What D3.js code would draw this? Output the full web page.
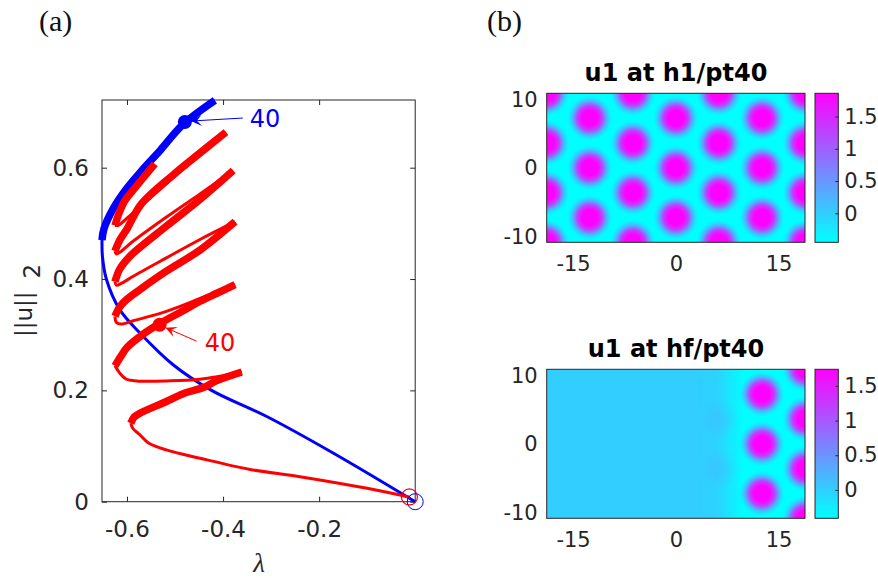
<!DOCTYPE html>
<html><head><meta charset="utf-8">
<script src="https://cdn.jsdelivr.net/npm/d3@7/dist/d3.min.js"></script>
<style>
body{margin:0;background:#fff;}
svg{display:block;}
text{font-family:"DejaVu Sans",sans-serif;}
</style></head><body>
<svg id="chart" width="878" height="578" xmlns="http://www.w3.org/2000/svg"></svg>
<script>
// ---------------- Panel (a): branches ----------------
const blueLambda = [0,-0.17,-0.309,-0.424,-0.504,-0.573,-0.615,-0.643,-0.651,-0.652,-0.648,-0.629,-0.601,-0.566,-0.531,-0.483,-0.417];
const blueNorm   = [0,0.087,0.153,0.2,0.246,0.303,0.345,0.40,0.44,0.47,0.49,0.526,0.562,0.598,0.631,0.678,0.721];
const blueStable = [0,0,0,0,0,0,0,0,0,1,1,1,1,1,1,1,1];

const redLambda = [-0.011,-0.1,-0.24,-0.344,-0.448,-0.518,-0.556,-0.573,-0.588,
  -0.592,-0.585,-0.573,-0.518,-0.483,-0.441,-0.414,
  -0.361,-0.448,-0.518,-0.58,-0.601,-0.615,
  -0.625,-0.612,-0.6,-0.566,-0.532,-0.483,-0.448,-0.414,
  -0.375,-0.448,-0.518,-0.587,-0.612,-0.622,
  -0.625,-0.615,-0.601,-0.573,-0.518,-0.448,
  -0.375,-0.448,-0.518,-0.587,-0.612,-0.622,
  -0.625,-0.615,-0.595,-0.518,-0.448,
  -0.379,-0.448,-0.52,-0.59,-0.615,-0.622,
  -0.625,-0.615,-0.6,-0.57,-0.5,-0.45,
  -0.394,-0.46,-0.53,-0.595,-0.617,
  -0.625,-0.618,-0.605,-0.587,-0.542];
const redNorm = [0.008,0.024,0.045,0.058,0.078,0.093,0.106,0.120,0.132,
  0.141,0.152,0.159,0.180,0.194,0.205,0.217,
  0.233,0.220,0.217,0.217,0.220,0.231,
  0.244,0.262,0.277,0.301,0.320,0.343,0.360,0.374,
  0.390,0.365,0.342,0.325,0.319,0.322,
  0.333,0.350,0.363,0.381,0.414,0.452,
  0.503,0.471,0.438,0.405,0.392,0.389,
  0.395,0.418,0.440,0.495,0.543,
  0.595,0.553,0.510,0.466,0.448,0.445,
  0.450,0.470,0.490,0.535,0.590,0.625,
  0.664,0.615,0.562,0.513,0.497,
  0.496,0.515,0.540,0.560,0.607];
const redStable = [0,0,0,0,0,0,0,0,0,
  1,1,1,1,1,1,1,
  0,0,0,0,0,0,
  1,1,1,1,1,1,1,1,
  0,0,0,0,0,0,
  1,1,1,1,1,1,
  0,0,0,0,0,0,
  1,1,1,1,1,
  0,0,0,0,0,0,
  1,1,1,1,1,1,
  0,0,0,0,0,
  1,1,1,1,1];

const bluePt40  = [-0.4796, 0.682];
const redPt40   = [-0.532, 0.318];
const blueStart = [0, 0];
const redStart  = [-0.012, 0.0085];
const ptLabel   = "40";
const aXTicks   = [-0.6, -0.4, -0.2];
const aYTicks   = [0, 0.2, 0.4, 0.6];
const aXDomain  = [-0.652, 0];
const aYDomain  = [0, 0.7216];

// ---------------- Panel (b): solution plots ----------------
const bXTicks  = [-15, 0, 15];
const bYTicks  = [-10, 0, 10];
const cbTicks  = [0, 0.5, 1, 1.5];
const bXDomain = [-18.85, 18.85];
const bYDomain = [-10.88, 10.88];
const topTitle = "u1 at h1/pt40";
const botTitle = "u1 at hf/pt40";
const topRange = [-0.45, 1.86];
const botRange = [-0.41, 1.74];
const topSpotX = [-12.57,-12.57,-12.57, 0,0,0, 12.57,12.57,12.57,
  -18.85,-18.85,-18.85,-18.85, -6.28,-6.28,-6.28,-6.28, 6.28,6.28,6.28,6.28, 18.85,18.85,18.85,18.85];
const topSpotY = [0,7.26,-7.26, 0,7.26,-7.26, 0,7.26,-7.26,
  3.63,-3.63,10.88,-10.88, 3.63,-3.63,10.88,-10.88, 3.63,-3.63,10.88,-10.88, 3.63,-3.63,10.88,-10.88];
const botSpotX = [12.57,12.57,12.57, 18.85,18.85,18.85,18.85];
const botSpotY = [0,7.26,-7.26, 3.63,-3.63,10.88,-10.88];
const botBumpX = [6.4, 6.4];
const botBumpY = [3.63, -3.63];
const botBaseX = [-18.85, 3, 6, 8, 10, 18.85];
const botBaseU = [0.0, 0.0, -0.03, -0.22, -0.41, -0.41];

// ---------------- drawing ----------------
const svg = d3.select("#chart");
const defs = svg.append("defs");
const ink = "#262626";

// ===== panel (a) =====
const xA = d3.scaleLinear().domain(aXDomain).range([102, 415.2]);
const yA = d3.scaleLinear().domain(aYDomain).range([501.7, 100]);

svg.append("text").attr("x", 39).attr("y", 31)
  .style("font-family", "'Liberation Serif','DejaVu Serif',serif").style("font-size", "30px").attr("fill", "#111").text("(a)");
svg.append("text").attr("x", 487).attr("y", 31)
  .style("font-family", "'Liberation Serif','DejaVu Serif',serif").style("font-size", "30px").attr("fill", "#111").text("(b)");

const gA = svg.append("g");
gA.append("rect").attr("x", xA.range()[0]).attr("y", yA.range()[1])
  .attr("width", xA.range()[1]-xA.range()[0]).attr("height", yA.range()[0]-yA.range()[1])
  .attr("fill", "none").attr("stroke", ink).attr("stroke-width", 1);

const fmt = d => String(d);
function styleAxis(g, size) {
  g.select(".domain").remove();
  g.selectAll(".tick line").attr("stroke", ink);
  g.selectAll(".tick text").attr("fill", ink).style("font-size", size + "px");
}
gA.append("g").attr("transform", `translate(0,${yA.range()[0]})`)
  .call(d3.axisBottom(xA).tickValues(aXTicks).tickSizeInner(-5).tickSizeOuter(0).tickPadding(19).tickFormat(fmt))
  .call(g => styleAxis(g, 23));
gA.append("g").attr("transform", `translate(0,${yA.range()[1]})`)
  .call(d3.axisTop(xA).tickValues(aXTicks).tickSizeInner(-5).tickSizeOuter(0).tickFormat(""))
  .call(g => styleAxis(g, 23));
gA.append("g").attr("transform", `translate(${xA.range()[0]},0)`)
  .call(d3.axisLeft(yA).tickValues(aYTicks).tickSizeInner(-5).tickSizeOuter(0).tickPadding(13).tickFormat(fmt))
  .call(g => styleAxis(g, 23));
gA.append("g").attr("transform", `translate(${xA.range()[1]},0)`)
  .call(d3.axisRight(yA).tickValues(aYTicks).tickSizeInner(-5).tickSizeOuter(0).tickFormat(""))
  .call(g => styleAxis(g, 23));

// axis labels
svg.append("text").attr("x", 259).attr("y", 572).attr("text-anchor", "middle")
  .style("font-family", "'Liberation Serif','DejaVu Serif',serif").style("font-style", "italic")
  .style("font-size", "27px").attr("fill", ink).text("λ");
const yl = svg.append("text").attr("transform", "translate(31.5,337) rotate(-90)")
  .style("font-size", "23px").attr("fill", ink);
yl.append("tspan").text("||u||");
yl.append("tspan").attr("dx", 13).attr("dy", 8.5).text("2");

function runs(L, N, S) {
  const out = [];
  let cur = {stable: S[0], pts: [[L[0], N[0]]]};
  for (let i = 1; i < L.length; i++) {
    cur.pts.push([L[i], N[i]]);
    if (i < L.length - 1 && S[i] !== cur.stable) {
      out.push(cur);
      cur = {stable: S[i], pts: [[L[i], N[i]]]};
    }
  }
  out.push(cur);
  return out;
}
const lineA = d3.line().x(d => xA(d[0])).y(d => yA(d[1])).curve(d3.curveCatmullRom.alpha(0.5));
function drawBranch(L, N, S, col) {
  gA.append("g").selectAll("path").data(runs(L, N, S)).join("path")
    .attr("d", d => lineA(d.pts)).attr("fill", "none").attr("stroke", col)
    .attr("stroke-width", d => d.stable ? 7.5 : 3)
    .attr("stroke-linejoin", "round").attr("stroke-linecap", "butt");
}
drawBranch(blueLambda, blueNorm, blueStable, "#0000ff");
drawBranch(redLambda, redNorm, redStable, "#ff0000");

// start markers (open circles)
gA.append("circle").attr("cx", xA(blueStart[0])).attr("cy", yA(blueStart[1])).attr("r", 8)
  .attr("fill", "none").attr("stroke", "#0000ff").attr("stroke-width", 1);
gA.append("circle").attr("cx", xA(redStart[0])).attr("cy", yA(redStart[1])).attr("r", 8)
  .attr("fill", "none").attr("stroke", "#e00020").attr("stroke-width", 1.2);

// point annotations
function annot(pt, col, tail, tip, lab) {
  const cx = xA(pt[0]), cy = yA(pt[1]);
  gA.append("circle").attr("cx", cx).attr("cy", cy).attr("r", 7).attr("fill", col);
  const tx = cx + tail[0], ty = cy + tail[1], px = cx + tip[0], py = cy + tip[1];
  gA.append("line").attr("x1", tx).attr("y1", ty).attr("x2", px).attr("y2", py)
    .attr("stroke", col).attr("stroke-width", 1);
  const dx = px - tx, dy = py - ty, len = Math.hypot(dx, dy), ux = dx/len, uy = dy/len, nx = -uy, ny = ux;
  const hl = 11, hw = 5.5, nt = 6;
  const pts = [[px, py], [px - ux*hl + nx*hw, py - uy*hl + ny*hw], [px - ux*nt, py - uy*nt], [px - ux*hl - nx*hw, py - uy*hl - ny*hw]];
  gA.append("path").attr("d", "M" + pts.map(p => p.join(",")).join("L") + "Z").attr("fill", col);
  gA.append("text").attr("x", cx + lab[0]).attr("y", cy + lab[1]).attr("fill", col)
    .style("font-size", "24px").text(ptLabel);
}
annot(bluePt40, "#0000ff", [58, -4], [6, -1], [65, 5]);
annot(redPt40, "#ff0000", [37, 16.5], [6, 3], [45, 26]);

// ===== panel (b) =====
const cool = d3.interpolateRgb("#00ffff", "#ff00ff");
const xB = d3.scaleLinear().domain(bXDomain).range([546.7, 805]);

function radial(id, color, stops) {
  const g = defs.append("radialGradient").attr("id", id);
  stops.forEach(s => g.append("stop").attr("offset", s[0]).attr("stop-color", color).attr("stop-opacity", s[1]));
}

function heatPanel(top, bottom, title, range, spotX, spotY, idp, extra) {
  const yB = d3.scaleLinear().domain(bYDomain).range([bottom, top]);
  const col = d3.scaleSequential(cool).domain(range);
  const x0 = xB.range()[0], x1 = xB.range()[1];
  defs.append("clipPath").attr("id", "clip" + idp).append("rect")
    .attr("x", x0).attr("y", top).attr("width", x1 - x0).attr("height", bottom - top);
  radial("spot" + idp, col(range[1]), [[0, 1], [0.35, 1], [0.55, 0.75], [0.75, 0.3], [0.9, 0.08], [1, 0]]);
  const g = svg.append("g");
  const img = g.append("g").attr("clip-path", `url(#clip${idp})`);
  extra(img, yB, col, x0, x1, top, bottom);
  img.selectAll("circle.spot").data(spotX.map((v, i) => [v, spotY[i]])).join("circle")
    .attr("class", "spot").attr("cx", d => xB(d[0])).attr("cy", d => yB(d[1])).attr("r", 22.5)
    .attr("fill", `url(#spot${idp})`);
  g.append("rect").attr("x", x0).attr("y", top).attr("width", x1 - x0).attr("height", bottom - top)
    .attr("fill", "none").attr("stroke", ink).attr("stroke-width", 1);
  g.append("g").attr("transform", `translate(0,${bottom})`)
    .call(d3.axisBottom(xB).tickValues(bXTicks).tickSizeInner(0).tickSizeOuter(0).tickPadding(13.5).tickFormat(fmt))
    .call(a => styleAxis(a, 21));
  g.append("g").attr("transform", `translate(${x0},0)`)
    .call(d3.axisLeft(yB).tickValues(bYTicks).tickSizeInner(0).tickSizeOuter(0).tickPadding(9).tickFormat(fmt))
    .call(a => styleAxis(a, 21));
  g.append("text").attr("x", 676).attr("y", top - 12.5).attr("text-anchor", "middle")
    .style("font-weight", "bold").style("font-size", "24px").attr("fill", "#000").text(title);
  // colorbar
  const cbY = d3.scaleLinear().domain(range).range([bottom, top]);
  const gid = "cb" + idp;
  const lg = defs.append("linearGradient").attr("id", gid).attr("x1", 0).attr("y1", 1).attr("x2", 0).attr("y2", 0);
  d3.range(0, 1.0001, 0.1).forEach(t => lg.append("stop").attr("offset", t)
    .attr("stop-color", col(range[0] + t * (range[1] - range[0]))));
  g.append("rect").attr("x", 815).attr("y", top).attr("width", 23.3).attr("height", bottom - top)
    .attr("fill", `url(#${gid})`).attr("stroke", ink).attr("stroke-width", 1);
  g.append("g").attr("transform", "translate(838.3,0)")
    .call(d3.axisRight(cbY).tickValues(cbTicks).tickSizeInner(-3).tickSizeOuter(0).tickPadding(6).tickFormat(fmt))
    .call(a => styleAxis(a, 21));
}

heatPanel(93.3, 242.3, topTitle, topRange, topSpotX, topSpotY, "T", (img, yB, col, x0, x1, t, b) => {
  img.append("rect").attr("x", x0).attr("y", t).attr("width", x1 - x0).attr("height", b - t).attr("fill", col(topRange[0]));
});

heatPanel(369.3, 518.3, botTitle, botRange, botSpotX, botSpotY, "B", (img, yB, col, x0, x1, t, b) => {
  const lg = defs.append("linearGradient").attr("id", "baseB").attr("gradientUnits", "userSpaceOnUse")
    .attr("x1", x0).attr("x2", x1).attr("y1", 0).attr("y2", 0);
  botBaseX.forEach((v, i) => lg.append("stop").attr("offset", (xB(v) - x0) / (x1 - x0)).attr("stop-color", col(botBaseU[i])));
  img.append("rect").attr("x", x0).attr("y", t).attr("width", x1 - x0).attr("height", b - t).attr("fill", "url(#baseB)");
  radial("bumpB", col(0.3), [[0, 0.35], [0.5, 0.2], [1, 0]]);
  img.selectAll("circle.bump").data(botBumpX.map((v, i) => [v, botBumpY[i]])).join("circle")
    .attr("class", "bump").attr("cx", d => xB(d[0])).attr("cy", d => yB(d[1])).attr("r", 20)
    .attr("fill", "url(#bumpB)");
});
</script>
</body></html>
